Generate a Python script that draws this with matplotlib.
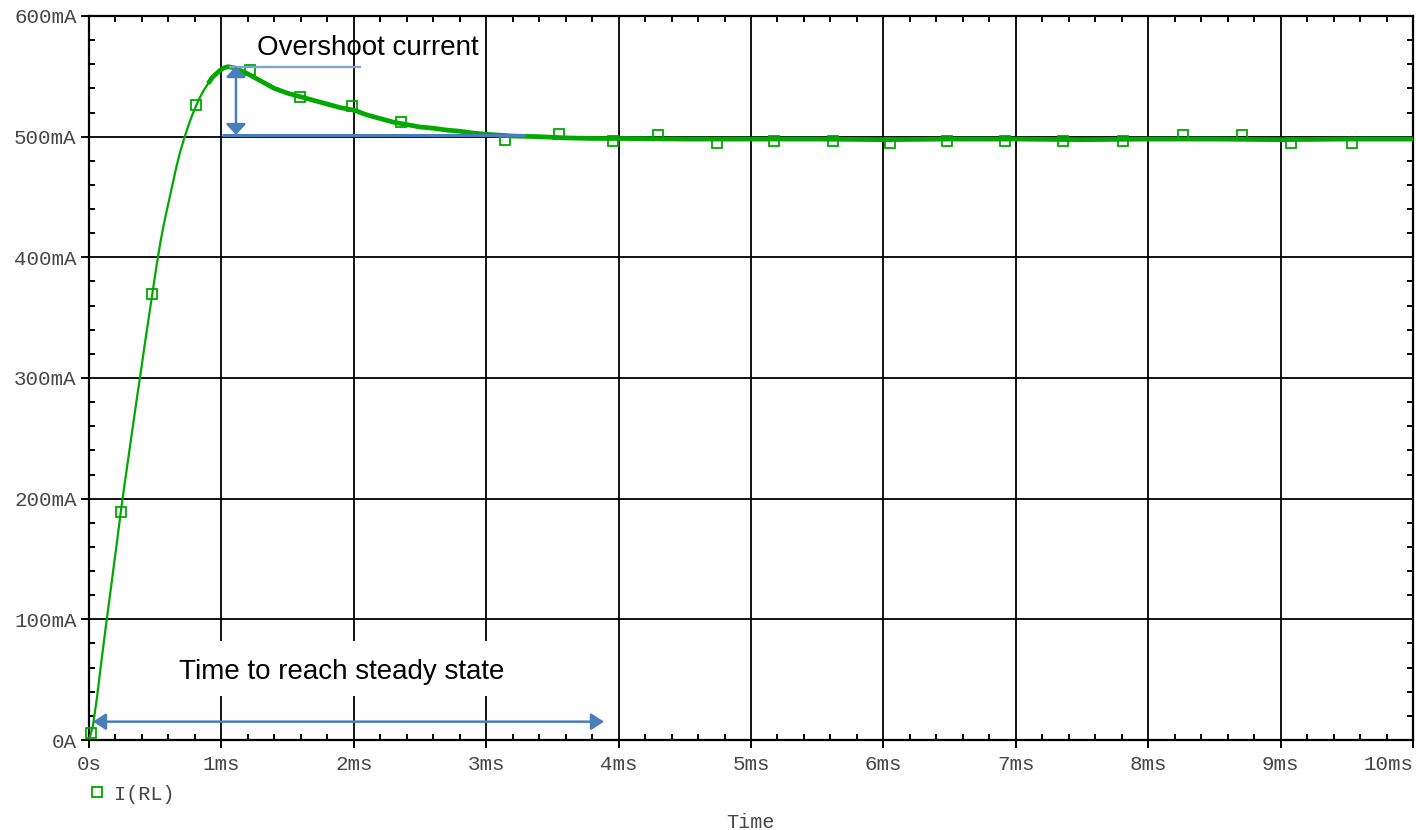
import matplotlib
matplotlib.use("Agg")
import matplotlib.pyplot as plt
from matplotlib.patches import Rectangle
from matplotlib.lines import Line2D
from matplotlib.ticker import MultipleLocator

# Load current I(RL) versus time (ms, mA)
time_ms = [0.00, 0.03, 0.06, 0.09, 0.12, 0.15, 0.18, 0.21, 0.24, 0.27,
           0.30, 0.33, 0.36, 0.39, 0.42, 0.45, 0.48, 0.51, 0.54, 0.57,
           0.60, 0.63, 0.66, 0.69, 0.72, 0.75, 0.78, 0.81, 0.84, 0.87,
           0.90, 0.93, 0.96, 0.99, 1.02, 1.05, 1.10, 1.20, 1.30, 1.40,
           1.50, 1.60, 1.70, 1.80, 1.90, 2.00, 2.10, 2.20, 2.30, 2.40,
           2.50, 2.60, 2.70, 2.80, 2.90, 3.00, 3.20, 3.40, 3.60, 3.80,
           4.00, 4.50, 5.00, 5.50, 6.00, 6.50, 7.00, 7.50, 8.00, 8.50,
           9.00, 9.50, 10.00]
current_ma = [0, 12, 35, 62, 88, 113, 138, 163, 189, 213,
              236, 259, 282, 304, 327, 349, 371, 393, 413, 430,
              445, 460, 475, 488, 499, 509, 518, 526, 533, 539,
              544, 549, 552, 555, 557, 558, 557, 552, 546, 540,
              536, 533, 530, 527, 524, 522, 518, 515, 512, 510,
              508, 507, 505.5, 504.5, 503, 502, 500.5, 500, 499, 498.5,
              498.5, 498, 498, 498, 497.5, 498, 498, 497.5, 498, 498,
              497.5, 498, 498]

# Trace marker samples
marker_ms = [0.013, 0.24, 0.478, 0.806, 1.216, 1.594, 1.984, 2.36, 3.14,
             3.55, 3.96, 4.30, 4.74, 5.17, 5.62, 6.05, 6.48, 6.92, 7.36,
             7.81, 8.26, 8.71, 9.08, 9.54]
marker_ma = [6, 189, 370, 526, 555, 533, 525, 512, 497,
             502, 496, 501, 495, 496, 496, 495, 496, 496, 496,
             496, 501, 501, 494.5, 494.5]

x_ticks = [0, 1, 2, 3, 4, 5, 6, 7, 8, 9, 10]
x_tick_labels = ["0s", "1ms", "2ms", "3ms", "4ms", "5ms", "6ms", "7ms",
                 "8ms", "9ms", "10ms"]
y_ticks = [0, 100, 200, 300, 400, 500, 600]
y_tick_labels = ["0A", "100mA", "200mA", "300mA", "400mA", "500mA", "600mA"]

noise_start_ms = 0.90  # ripple becomes visible from here on

GREEN = "#00a800"
BLUE = "#4a7ebb"
LIGHT_BLUE = "#7ba3d6"
LABEL_GREY = "#464646"
MONO = "Liberation Mono"
SANS = "Liberation Sans"

W, H = 1416, 830
fig = plt.figure(figsize=(W / 100, H / 100), dpi=100)
ax = fig.add_axes([89 / W, 1 - 740 / H, (1413 - 89) / W, (740 - 16) / H])
ax.set_xlim(0, 10)
ax.set_ylim(0, 600)
ax.set_axisbelow(True)

# grid, spines and ticks
ax.grid(which="major", color="black", lw=1.3)
for sp in ax.spines.values():
    sp.set_linewidth(1.6)
ax.set_xticks(x_ticks)
ax.set_xticklabels(x_tick_labels, fontfamily=MONO, fontsize=15, color=LABEL_GREY)
ax.set_yticks(y_ticks)
ax.set_yticklabels(y_tick_labels, fontfamily=MONO, fontsize=15, color=LABEL_GREY)
ax.get_xticklabels()[-1].set_ha("right")
ax.xaxis.set_minor_locator(MultipleLocator(0.2))
ax.yaxis.set_minor_locator(MultipleLocator(20))
ax.tick_params(which="major", direction="out", length=6, width=1.4,
               top=False, right=False)
ax.tick_params(axis="x", which="major", pad=5)
ax.tick_params(axis="y", which="major", pad=3)
ax.tick_params(which="minor", direction="in", length=4, width=1.4,
               top=True, right=True, bottom=True, left=True)

# trace: clean rise, then the rippled overshoot/settling part
split = next(i for i, t in enumerate(time_ms) if t >= noise_start_ms)
ax.plot(time_ms[:split + 1], current_ma[:split + 1], color=GREEN, lw=1.6,
        zorder=4)
ax.plot(time_ms[split:], current_ma[split:], color=GREEN, lw=3.4,
        solid_joinstyle="round", solid_capstyle="butt", zorder=4)
ax.plot(marker_ms, marker_ma, ls="none", marker="s", ms=6.8, mew=1.3,
        mfc="none", mec=GREEN, zorder=4, clip_on=False)

# white panel behind the lower caption
ax.add_patch(Rectangle((0.574, 36.5), 3.255 - 0.574, 82 - 36.5,
                       fc="white", ec="none", zorder=1))
ax.text(0.682, 50.3, "Time to reach steady state", fontfamily=SANS,
        fontsize=20, color="black", ha="left", va="baseline", zorder=5)
ax.annotate("", xy=(0.03, 15.2), xytext=(3.89, 15.2),
            arrowprops=dict(arrowstyle="<|-|>,head_length=7.7,head_width=5",
                            mutation_scale=1, color=BLUE, lw=1.8,
                            shrinkA=0, shrinkB=0), zorder=5)

# overshoot marking
ax.text(1.269, 567.7, "Overshoot current", fontfamily=SANS, fontsize=20,
        color="black", ha="left", va="baseline", zorder=5)
ax.plot([1.057, 2.054], [558.1, 558.1], color=LIGHT_BLUE, lw=1.7,
        solid_capstyle="butt", zorder=5)
ax.plot([1.005, 3.293], [501.4, 501.4], color=BLUE, lw=2.2,
        solid_capstyle="butt", zorder=5)
ax.annotate("", xy=(1.11, 558.5), xytext=(1.11, 501.4),
            arrowprops=dict(arrowstyle="<|-|>,head_length=6.5,head_width=6",
                            mutation_scale=1, color=BLUE, lw=1.8,
                            shrinkA=0, shrinkB=0), zorder=5)

# legend entry and axis title
ax.legend(handles=[Line2D([], [], ls="none", marker="s", ms=6.8, mew=1.3,
                          mfc="none", mec=GREEN)],
          labels=["I(RL)"], loc="center left",
          bbox_to_anchor=(89 / W, 1 - 794 / H), bbox_transform=fig.transFigure,
          frameon=False, handlelength=0.8, handletextpad=0.45,
          borderpad=0, borderaxespad=0,
          prop=dict(family=MONO, size=14.5), labelcolor=LABEL_GREY)
fig.text(751 / W, 1 - 822 / H, "Time", ha="center", va="center",
         fontfamily=MONO, fontsize=14.5, color=LABEL_GREY)

fig.savefig("out.png", dpi=100)
